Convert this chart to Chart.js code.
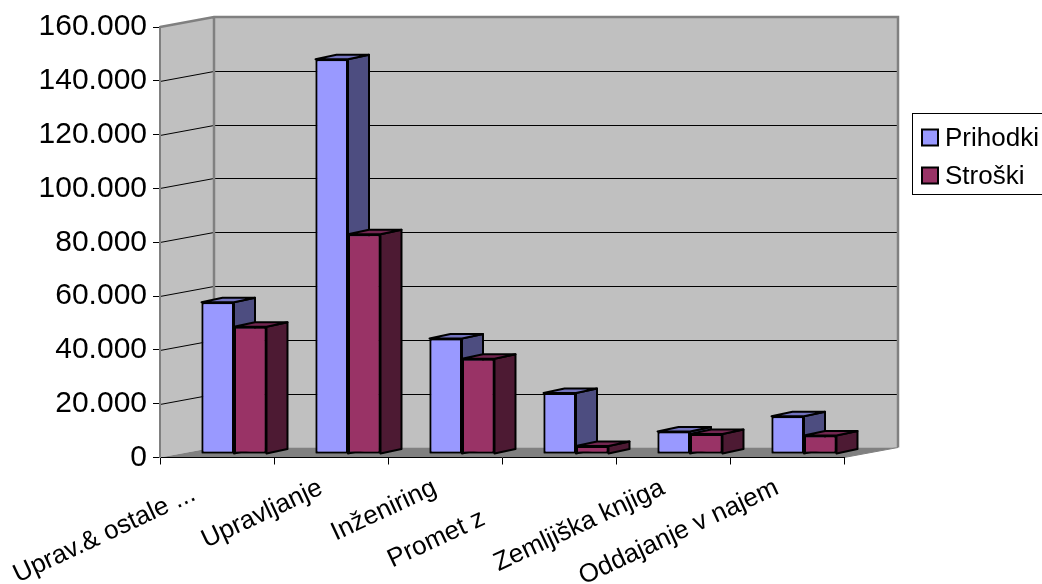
<!DOCTYPE html>
<html>
<head>
<meta charset="utf-8">
<script src="https://cdn.jsdelivr.net/npm/chart.js@4/dist/chart.umd.min.js"></script>
<style>
  html, body { margin: 0; padding: 0; background: #fff; }
  #wrap { width: 1042px; height: 584px; position: relative; }
</style>
</head>
<body>
<div id="wrap"><canvas id="chart"></canvas></div>
<script>
// Revenue vs. costs per business segment
// (some segment names carry trailing blanks from the source sheet)
const categories = ['Uprav.& ostale ...  ', 'Upravljanje', 'Inženiring', 'Promet z          ', 'Zemljiška knjiga', 'Oddajanje v najem'];
const seriesNames = ['Prihodki', 'Stroški'];
const prihodki = [56400, 146700, 42900, 22700, 8400, 14000];
const stroski  = [47300, 81700, 35400, 3000, 7400, 6900];
const yMin = 0, yMax = 160000, yStep = 20000;

const FONT = '"Liberation Sans", Arial, sans-serif';

// pseudo-3D geometry
const WALL = { dx: 54, dy: -10 };       // depth of the back wall behind the front axis plane
const BAR_SHIFT = { dx: 17, dy: -3.5 }; // where the bar fronts sit inside the floor depth
const BAR_DEPTH = { dx: 21, dy: -4.5 }; // thickness of each bar

const palette = [
  { front: '#9999ff', side: '#4d4d80', top: '#7373bf' },
  { front: '#993366', side: '#4d1a33', top: '#732650' }
];

function fmtThousands(v) {
  return String(v).replace(/\B(?=(\d{3})+(?!\d))/g, '.');
}

function poly(ctx, pts) {
  ctx.beginPath();
  ctx.moveTo(pts[0][0], pts[0][1]);
  for (let i = 1; i < pts.length; i++) ctx.lineTo(pts[i][0], pts[i][1]);
  ctx.closePath();
}

function drawFaces(ctx, el, col) {
  const h = el.width / 2;
  const l = el.x - h, r = el.x + h;
  const t = Math.min(el.y, el.base), b = Math.max(el.y, el.base);
  const dx = BAR_DEPTH.dx, dy = BAR_DEPTH.dy;
  ctx.save();
  ctx.lineWidth = 2;
  ctx.strokeStyle = '#000';
  ctx.lineJoin = 'round';
  ctx.fillStyle = col.side;
  poly(ctx, [[r, t], [r + dx, t + dy], [r + dx, b + dy], [r, b]]);
  ctx.fill(); ctx.stroke();
  ctx.fillStyle = col.top;
  poly(ctx, [[l, t], [r, t], [r + dx, t + dy], [l + dx, t + dy]]);
  ctx.fill(); ctx.stroke();
  ctx.restore();
}

const depthPlugin = {
  id: 'depth3d',
  beforeDraw(chart) {
    const { ctx, chartArea: a, scales: { y } } = chart;
    const L = a.left, R = a.right;
    const T = y.getPixelForValue(yMax), B = y.getPixelForValue(yMin);
    const dx = WALL.dx, dy = WALL.dy;
    ctx.save();
    // side wall + back wall
    ctx.fillStyle = '#c0c0c0';
    poly(ctx, [[L, T], [L + dx, T + dy], [L + dx, B + dy], [L, B]]);
    ctx.fill();
    ctx.fillRect(L + dx, T + dy, R - L, B - T);
    // floor
    ctx.fillStyle = '#808080';
    poly(ctx, [[L, B], [R, B], [R + dx, B + dy], [L + dx, B + dy]]);
    ctx.fill();
    // value gridlines running along both walls
    ctx.strokeStyle = '#000';
    ctx.lineWidth = 1;
    for (let v = yMin + yStep; v < yMax; v += yStep) {
      const py = Math.round(y.getPixelForValue(v)) + 0.5;
      ctx.beginPath();
      ctx.moveTo(L, py);
      ctx.lineTo(L + dx, py + dy);
      ctx.lineTo(R + dx, py + dy);
      ctx.stroke();
    }
    // wall edges
    ctx.strokeStyle = '#808080';
    ctx.lineWidth = 2.5;
    ctx.beginPath();
    ctx.moveTo(L, T);
    ctx.lineTo(L + dx, T + dy);
    ctx.lineTo(R + dx, T + dy);
    ctx.lineTo(R + dx, B + dy);
    ctx.moveTo(L + dx, T + dy);
    ctx.lineTo(L + dx, B + dy);
    ctx.stroke();
    ctx.lineWidth = 1;
    ctx.beginPath();
    ctx.moveTo(R, B);
    ctx.lineTo(R + dx, B + dy);
    ctx.stroke();
    ctx.restore();
  },
  beforeDatasetsDraw(chart) {
    chart.ctx.save();
    chart.ctx.translate(BAR_SHIFT.dx, BAR_SHIFT.dy);
  },
  afterDatasetsDraw(chart) {
    const ctx = chart.ctx;
    const metas = chart.data.datasets.map((d, i) => chart.getDatasetMeta(i));
    // paint each category front-to-back so every bar hides the one behind it
    for (let i = 0; i < categories.length; i++) {
      metas.forEach((m, di) => {
        const el = m.data[i];
        if (!el) return;
        el.draw(ctx);
        drawFaces(ctx, el, palette[di]);
      });
    }
    ctx.restore();
  },
  afterDraw(chart) {
    const ctx = chart.ctx;
    ctx.save();
    // legend box (runs off the right edge)
    ctx.fillStyle = '#fff';
    ctx.fillRect(912.5, 113.5, 140, 81);
    ctx.strokeStyle = '#000';
    ctx.lineWidth = 1;
    ctx.strokeRect(912.5, 113.5, 140, 81);
    ctx.font = '26px ' + FONT;
    ctx.textBaseline = 'middle';
    ctx.textAlign = 'left';
    chart.data.datasets.forEach((ds, i) => {
      const cy = 137.5 + i * 38;
      ctx.fillStyle = ds.backgroundColor;
      ctx.fillRect(922, cy - 8, 16, 16);
      ctx.lineWidth = 2;
      ctx.strokeStyle = '#000';
      ctx.strokeRect(922, cy - 8, 16, 16);
      ctx.fillStyle = '#000';
      ctx.fillText(ds.label, 945, cy + 1);
    });
    ctx.restore();
  }
};

new Chart(document.getElementById('chart'), {
  type: 'bar',
  data: {
    labels: categories,
    datasets: [
      { label: seriesNames[0], data: prihodki, backgroundColor: palette[0].front },
      { label: seriesNames[1], data: stroski, backgroundColor: palette[1].front }
    ]
  },
  options: {
    responsive: true,
    maintainAspectRatio: false,
    devicePixelRatio: 1,
    animation: false,
    events: [],
    layout: { padding: { left: 0, top: 27, right: 198, bottom: 0 } },
    datasets: {
      bar: {
        categoryPercentage: 0.57,
        barPercentage: 1,
        borderWidth: 2,
        borderColor: '#000',
        borderSkipped: false,
        clip: false
      }
    },
    plugins: {
      legend: { display: false },
      tooltip: { enabled: false }
    },
    scales: {
      x: {
        afterFit(s) { s.height = 126.5; s.paddingLeft = 0; s.paddingRight = 0; },
        grid: { display: true, drawOnChartArea: false, drawTicks: true, tickLength: 7, color: '#000', lineWidth: 1, offset: true },
        border: { display: true, color: '#000', width: 1 },
        ticks: {
          autoSkip: false,
          minRotation: 25,
          maxRotation: 25,
          padding: 8,
          labelOffset: -10,
          color: '#000',
          font: { family: FONT, size: 26 }
        }
      },
      y: {
        min: yMin,
        max: yMax,
        afterFit(s) { s.width = 160; s.paddingTop = 0; s.paddingBottom = 0; },
        grid: { display: true, drawOnChartArea: false, drawTicks: true, tickLength: 7, color: '#000', lineWidth: 1 },
        border: { display: true, color: '#808080', width: 2 },
        ticks: {
          stepSize: yStep,
          padding: 6,
          color: '#000',
          font: { family: FONT, size: 30 },
          callback: (v) => fmtThousands(v)
        }
      }
    }
  },
  plugins: [depthPlugin]
});
</script>
</body>
</html>
